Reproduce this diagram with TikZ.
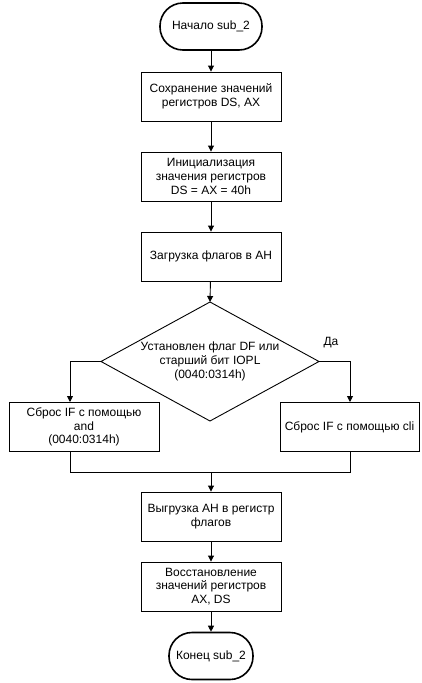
\documentclass[tikz,border=0pt]{standalone}
\usepackage{fontspec}
\setmainfont{Liberation Sans}
\usetikzlibrary{arrows.meta,shapes.geometric}
\begin{document}
\begin{tikzpicture}[x=1pt,y=-1pt,
  every node/.style={font=\fontsize{12}{13.8}\selectfont, align=center, inner sep=0pt},
  proc/.style={draw, line width=0.9pt, minimum width=140pt, minimum height=49pt},
  term/.style={draw, line width=1.6pt, rounded corners=23pt, minimum height=47pt},
  conn/.style={line width=0.9pt, -{Triangle[length=6pt,width=6pt]}},
  line/.style={line width=0.9pt}]
\useasboundingbox (0,0) rectangle (421,683);
\node[term, minimum width=102pt] (start) at (211,26.5) {Начало sub\_2};
\node[proc] (b1) at (211,96.5) {Сохранение значений\\регистров DS, AX};
\node[proc] (b2) at (211,176.5) {Инициализация\\значения регистров\\DS = AX = 40h};
\node[proc] (b3) at (211,256.5) {Загрузка флагов в AH};
\draw[line width=0.9pt] (101,361.5) -- (210,302) -- (319,361.5) -- (210,421) -- cycle;
\coordinate (dl) at (101,361.5);
\coordinate (dr) at (319,361.5);
\coordinate (dt) at (210,302);
\node (dtext) at (210,361.5) {Установлен флаг DF или\\старший бит IOPL\\(0040:0314h)};
\node[proc, minimum width=150pt] (bl) at (84,427) {Сброс IF с помощью\\and\\(0040:0314h)};
\node[proc, minimum width=139pt] (br) at (349.5,427) {Сброс IF с помощью cli};
\node (yes) at (331,343) {Да};
\node[proc] (b4) at (211,516.5) {Выгрузка AH в регистр\\флагов};
\node[proc] (b5) at (211,586.5) {Восстановление\\значений регистров\\AX, DS};
\node[term, minimum width=84pt] (end) at (211,656) {Конец sub\_2};
\draw[conn] (start) -- (b1);
\draw[conn] (b1) -- (b2);
\draw[conn] (b2) -- (b3);
\draw[conn] (b3) -- (dt);
\draw[conn] (dl) -| (70,402);
\draw[conn] (dr) -| (350,402);
\coordinate (m) at (211,472);
\draw[line] (70,452) |- (350,472) -- (350,452);
\draw[conn] (m) -- (b4);
\draw[conn] (b4) -- (b5);
\draw[conn] (b5) -- (end);
\end{tikzpicture}
\end{document}
